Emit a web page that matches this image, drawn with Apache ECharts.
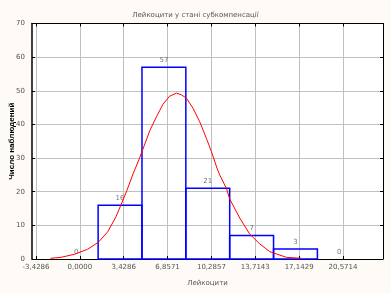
<!DOCTYPE html>
<html>
<head>
<meta charset="utf-8">
<script src="https://cdn.jsdelivr.net/npm/echarts@6/dist/echarts.min.js"></script>
<style>
html,body{margin:0;padding:0;background:#fefaf5;}
#c{width:391px;height:293px;}
</style>
</head>
<body>
<div id="c"></div>
<script>
// Histogram bins (lower edge, upper edge) and counts
const binLower = [-2.0000, 1.4286, 4.8571, 8.2857, 11.7143, 15.1429, 18.5714];
const binUpper = [1.4286, 4.8571, 8.2857, 11.7143, 15.1429, 18.5714, 22.0000];
const binCounts = [0, 16, 57, 21, 7, 3, 0];
// X tick labels
const xTicks = [-3.4286, 0.0000, 3.4286, 6.8571, 10.2857, 13.7143, 17.1429, 20.5714];
// Fitted normal curve
const curveX = [-2.30, -1.47, -0.43, 0.61, 1.45, 2.18, 2.83, 3.64, 4.16, 4.68, 5.20, 5.46, 5.99, 6.50, 7.02, 7.55, 7.94, 8.33, 8.85, 9.37, 9.89, 10.29, 10.72, 10.93, 11.46, 11.72, 12.50, 13.28, 14.06, 14.84, 16.15, 17.32];
const curveY = [0.2, 0.5, 1.4, 2.9, 5.0, 8.1, 12.6, 20.0, 25.3, 30.1, 35.4, 38.1, 42.3, 46.0, 48.4, 49.3, 48.8, 47.8, 44.8, 40.8, 35.9, 31.9, 27.0, 25.0, 21.0, 17.8, 12.2, 7.4, 4.5, 2.2, 0.5, 0.2];

const barData = binCounts.map((c, i) => [binLower[i], binUpper[i], c]);
const curveData = curveX.map((x, i) => [x, curveY[i]]);

const chart = echarts.init(document.getElementById('c'), null, {renderer: 'canvas'});
const fmt = v => v.toFixed(4).replace('.', ',');
const xMin = -3.741, xMax = 23.70;
const font = 'DejaVu Sans';

chart.setOption({
  backgroundColor: '#fefaf5',
  animation: false,
  title: {
    text: 'Лейкоцити у стані субкомпенсації',
    left: 'center', top: 7,
    textStyle: {fontFamily: font, fontSize: 7, fontWeight: 'normal', color: '#555'}
  },
  grid: {left: 32, right: 8, top: 23.5, bottom: 34, show: true, backgroundColor: '#ffffff', borderWidth: 0, outerBoundsMode: 'none'},
  xAxis: [{
    type: 'value', min: xMin, max: xMax, position: 'bottom',
    name: 'Лейкоцити', nameLocation: 'middle', nameGap: 21, nameMoveOverlap: false,
    nameTextStyle: {fontFamily: font, fontSize: 7, color: '#555'},
    axisLine: {show: true, onZero: false, lineStyle: {color: '#000', width: 1}},
    axisTick: {show: true, inside: true, length: 3, customValues: xTicks, lineStyle: {color: '#000'}},
    axisLabel: {customValues: xTicks, formatter: fmt, fontFamily: font, fontSize: 7, color: '#555', margin: 5},
    splitLine: {show: true, lineStyle: {color: '#c0c0c0', width: 1}}
  }, {
    type: 'value', min: xMin, max: xMax, position: 'top',
    axisLine: {show: true, onZero: false, lineStyle: {color: '#000', width: 1}},
    axisTick: {show: true, inside: true, length: 3, customValues: xTicks, lineStyle: {color: '#000'}},
    axisLabel: {show: false},
    splitLine: {show: false}
  }],
  yAxis: [{
    type: 'value', min: 0, max: 70, interval: 10, position: 'left',
    name: 'Число наблюдений', nameLocation: 'middle', nameGap: 16, nameMoveOverlap: false,
    nameTextStyle: {fontFamily: 'Liberation Sans', fontSize: 8, fontWeight: 'bold', color: '#000'},
    axisLine: {show: true, onZero: false, lineStyle: {color: '#000', width: 1.5}},
    axisTick: {show: true, inside: true, length: 3, lineStyle: {color: '#000'}},
    axisLabel: {fontFamily: font, fontSize: 7, color: '#555', margin: 7},
    splitLine: {show: true, lineStyle: {color: '#c0c0c0', width: 1}}
  }, {
    type: 'value', min: 0, max: 70, interval: 10, position: 'right',
    axisLine: {show: true, onZero: false, lineStyle: {color: '#000', width: 1}},
    axisTick: {show: true, inside: true, length: 3, lineStyle: {color: '#000'}},
    axisLabel: {show: false},
    splitLine: {show: false}
  }],
  series: [{
    type: 'custom',
    xAxisIndex: 0, yAxisIndex: 0,
    data: barData,
    encode: {x: [0, 1], y: 2},
    z: 3,
    renderItem: function (params, api) {
      const lo = api.value(0), hi = api.value(1), c = api.value(2);
      const p1 = api.coord([lo, c]);
      const p2 = api.coord([hi, 0]);
      const children = [];
      if (c > 0) {
        children.push({
          type: 'rect',
          shape: {x: p1[0], y: p1[1], width: p2[0] - p1[0], height: p2[1] - p1[1]},
          style: {fill: 'rgba(0,0,0,0)', stroke: '#0000ff', lineWidth: 1.5}
        });
      }
      children.push({
        type: 'text',
        style: {
          text: String(c), x: (p1[0] + p2[0]) / 2, y: p1[1] - 7,
          align: 'center', verticalAlign: 'middle',
          font: '7px "DejaVu Sans"', fill: '#777'
        }
      });
      return {type: 'group', children: children};
    }
  }, {
    type: 'line',
    xAxisIndex: 0, yAxisIndex: 0,
    data: curveData,
    showSymbol: false,
    smooth: false,
    z: 4,
    lineStyle: {color: '#ff0000', width: 1}
  }]
});
</script>
</body>
</html>
